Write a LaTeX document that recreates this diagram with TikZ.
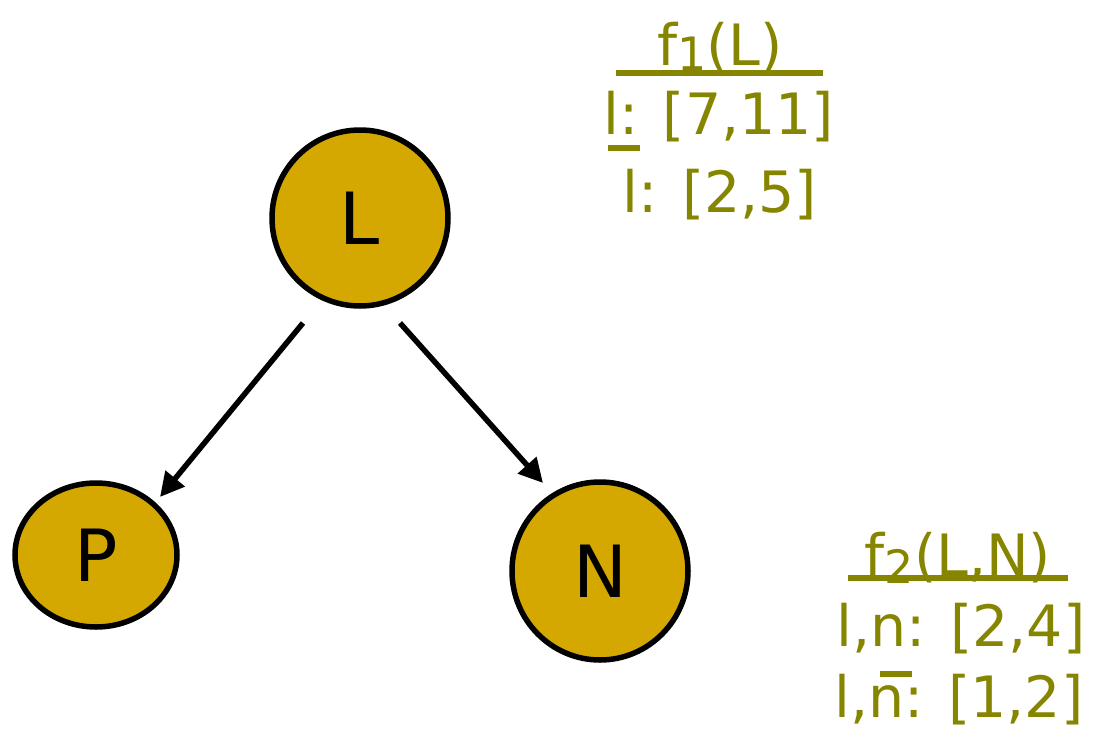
\documentclass[tikz,border=0pt]{standalone}
\usepackage{fontspec}
\setmainfont{DejaVu Sans}
\usetikzlibrary{arrows.meta,shapes.geometric}
\definecolor{nodefill}{RGB}{212,168,0}
\definecolor{olive}{RGB}{133,133,0}
\begin{document}
\begin{tikzpicture}[x=1pt,y=-1pt,
  var/.style={ellipse,draw=black,line width=5.5pt,fill=nodefill,inner sep=0pt,font=\fontsize{72}{72}\selectfont},
  edge/.style={line width=5.5pt,-{Triangle[length=24pt,width=24pt]}},
  tab/.style={text=olive,anchor=base,inner sep=0pt,font=\fontsize{57}{60}\selectfont},
  rule/.style={olive,line width=5.5pt}]
\useasboundingbox (0,0) rectangle (1096,739);
\node[var,minimum width=176pt,minimum height=176pt] (L) at (360,218) {L};
\node[var,minimum width=162pt,minimum height=144pt] (P) at (96,555) {P};
\node[var,minimum width=176pt,minimum height=178pt] (N) at (600,571) {N};
\coordinate (a1s) at (303,323);
\coordinate (a1e) at (160,497);
\coordinate (a2s) at (400,323);
\coordinate (a2e) at (543,483);
\draw[edge] (a1s) -- (a1e);
\draw[edge] (a2s) -- (a2e);
% f1 table
\node[tab] (t1) at (720,65) {f\raisebox{-5pt}{\fontsize{46}{46}\selectfont 1}(L)};
\node[tab] (t1a) at (719,134) {l: [7,11]};
\node[tab] (t1b) at (720,212) {l: [2,5]};
\draw[rule] (616,73) -- (823,73);
\draw[rule] (608,148) -- (640,148);
% f2 table
\node[tab] (t2) at (958,575) {f\raisebox{-8pt}{\fontsize{46}{46}\selectfont 2}(L,N)};
\node[tab] (t2a) at (961,646) {l,n: [2,4]};
\node[tab] (t2b) at (959,717) {l,n: [1,2]};
\draw[rule] (848,578) -- (1068,578);
\draw[rule] (880,674) -- (912,674);
\end{tikzpicture}
\end{document}
